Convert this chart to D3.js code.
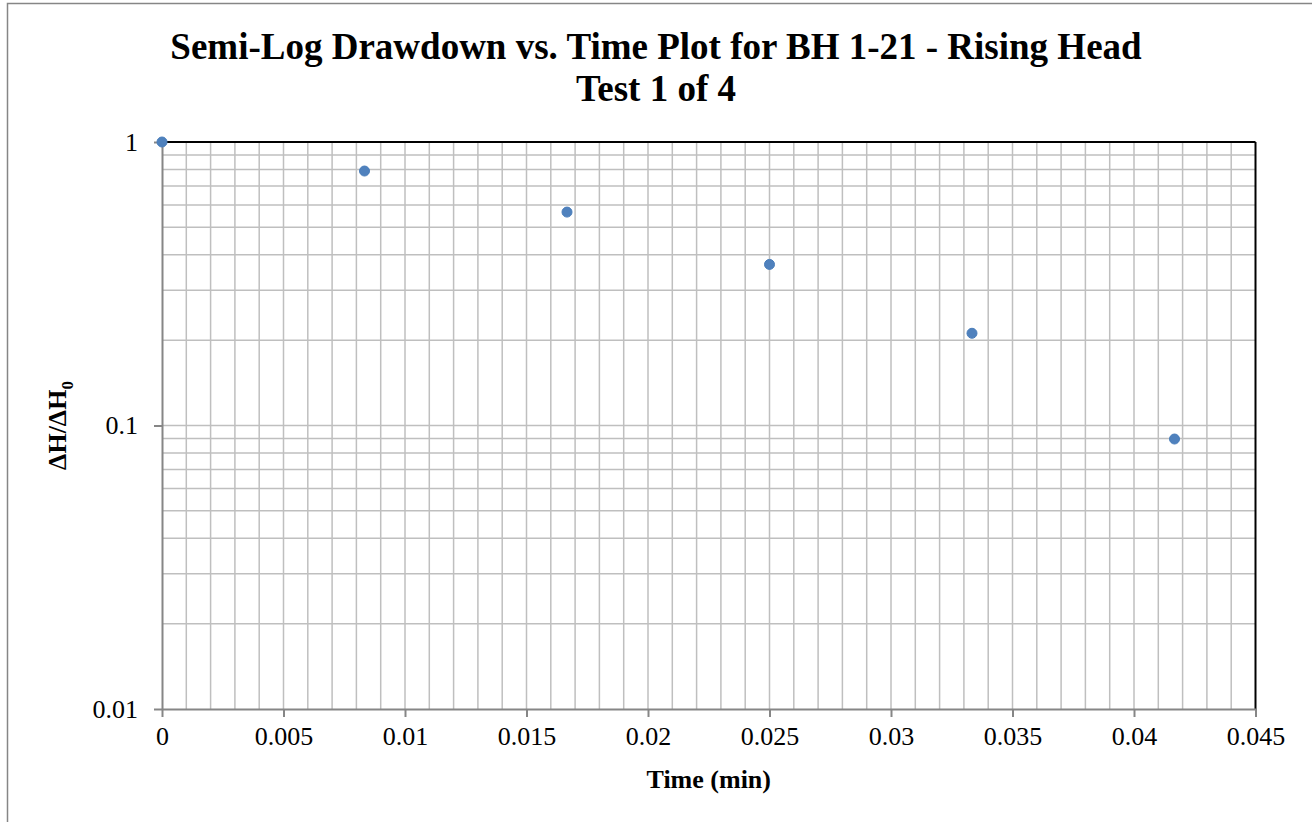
<!DOCTYPE html>
<html>
<head>
<meta charset="utf-8">
<script src="https://cdn.jsdelivr.net/npm/d3@7"></script>
<style>
  html, body { margin: 0; padding: 0; background: #fff; }
  svg { display: block; }
  text { font-family: "Liberation Serif", "Times New Roman", serif; }
</style>
</head>
<body>
<svg id="chart" width="1312" height="822"></svg>
<script>
// ---- Data ----
const timeMin = [0, 0.008333, 0.016667, 0.025, 0.033333, 0.041667];
const headRatio = [1, 0.79, 0.566, 0.37, 0.2115, 0.0896];
const xTickValues = [0, 0.005, 0.01, 0.015, 0.02, 0.025, 0.03, 0.035, 0.04, 0.045];
const xTickLabels = ["0", "0.005", "0.01", "0.015", "0.02", "0.025", "0.03", "0.035", "0.04", "0.045"];
const yTickValues = [0.01, 0.1, 1];
const yTickLabels = ["0.01", "0.1", "1"];
const titleLines = ["Semi-Log Drawdown vs. Time Plot for BH 1-21 - Rising Head", "Test 1 of 4"];
const xTitle = "Time (min)";

// ---- Layout ----
const svg = d3.select("#chart");
const plot = { left: 162, right: 1255.5, top: 142, bottom: 709 };

// outer chart border
svg.append("rect")
  .attr("x", 7.5).attr("y", 3.5)
  .attr("width", 1320).attr("height", 830)
  .attr("fill", "#fff").attr("stroke", "#868686").attr("stroke-width", 1.5);

const x = d3.scaleLinear().domain([0, 0.045]).range([plot.left, plot.right]);
const y = d3.scaleLog().domain([0.01, 1]).range([plot.bottom, plot.top]);

const gridColor = "#bfbfbf";
// vertical gridlines every 0.001
const xGrid = d3.range(1, 45).map(i => i / 1000);
svg.append("g").selectAll("line").data(xGrid).join("line")
  .attr("x1", d => x(d)).attr("x2", d => x(d))
  .attr("y1", plot.top).attr("y2", plot.bottom)
  .attr("stroke", gridColor).attr("stroke-width", 1.5);

// horizontal gridlines at 1..9 of each decade
const yGrid = [];
[0.01, 0.1].forEach(b => { for (let k = 1; k <= 9; k++) yGrid.push(b * k); });
svg.append("g").selectAll("line").data(yGrid.slice(1)).join("line")
  .attr("x1", plot.left).attr("x2", plot.right)
  .attr("y1", d => y(d)).attr("y2", d => y(d))
  .attr("stroke", gridColor).attr("stroke-width", 1.5);

// plot area border (top/right black)
svg.append("line").attr("x1", plot.left).attr("x2", plot.right)
  .attr("y1", plot.top).attr("y2", plot.top).attr("stroke", "#000").attr("stroke-width", 2);
svg.append("line").attr("x1", plot.right).attr("x2", plot.right)
  .attr("y1", plot.top).attr("y2", plot.bottom).attr("stroke", "#000").attr("stroke-width", 2);

// axes
const xAxis = d3.axisBottom(x).tickValues(xTickValues)
  .tickFormat((d, i) => xTickLabels[i]).tickSizeInner(8).tickSizeOuter(0).tickPadding(10);
const gx = svg.append("g").attr("transform", `translate(0,${plot.bottom})`).call(xAxis);
gx.select(".domain").attr("stroke", "#868686").attr("stroke-width", 2);
gx.selectAll(".tick line").attr("stroke", "#868686").attr("stroke-width", 2);
gx.selectAll(".tick text").attr("fill", "#000").style("font-size", "26px")
  .style("font-family", "'Liberation Serif', serif");

const yAxis = d3.axisLeft(y).tickValues(yTickValues)
  .tickFormat((d, i) => yTickLabels[i]).tickSizeInner(8).tickSizeOuter(0).tickPadding(16);
const gy = svg.append("g").attr("transform", `translate(${plot.left},0)`).call(yAxis);
gy.select(".domain").attr("stroke", "#868686").attr("stroke-width", 2);
gy.selectAll(".tick line").attr("stroke", "#868686").attr("stroke-width", 2);
gy.selectAll(".tick text").attr("fill", "#000").style("font-size", "26px")
  .style("font-family", "'Liberation Serif', serif");

// points
const pts = timeMin.map((t, i) => ({ t, v: headRatio[i] }));
svg.append("g").selectAll("circle").data(pts).join("circle")
  .attr("cx", d => x(d.t)).attr("cy", d => y(d.v)).attr("r", 5)
  .attr("fill", "#4F81BD").attr("stroke", "#4A7EBB").attr("stroke-width", 1);

// title
const title = svg.append("text").attr("text-anchor", "middle")
  .attr("font-weight", "bold").style("font-size", "37px");
titleLines.forEach((l, i) => {
  title.append("tspan").attr("x", 656).attr("y", 59 + i * 42).text(l);
});

// x axis title
svg.append("text").attr("x", (plot.left + plot.right) / 2).attr("y", 788)
  .attr("text-anchor", "middle").attr("font-weight", "bold").style("font-size", "26px")
  .text(xTitle);

// y axis title
const yt = svg.append("text")
  .attr("transform", `translate(66,${(plot.top + plot.bottom) / 2}) rotate(-90)`)
  .attr("text-anchor", "middle").attr("font-weight", "bold").style("font-size", "26px");
yt.append("tspan").text("ΔH/ΔH");
yt.append("tspan").attr("dy", 7).style("font-size", "17px").text("0");
</script>
</body>
</html>
